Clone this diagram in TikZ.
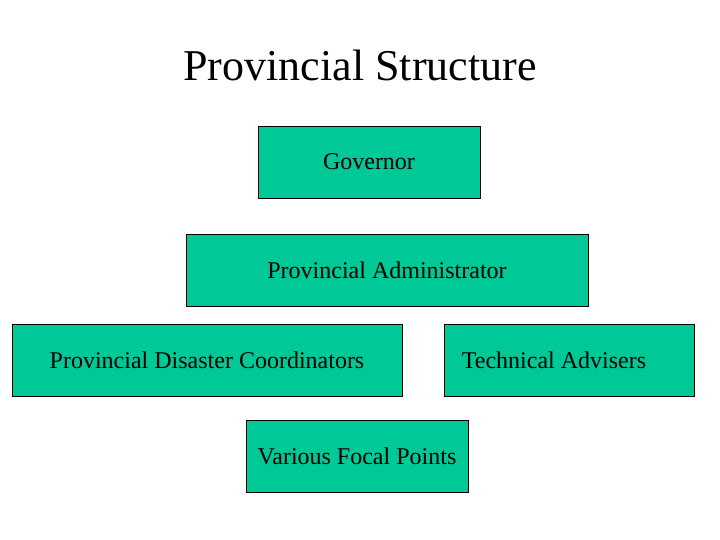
\documentclass[tikz,border=0pt]{standalone}
\usepackage{fontspec}
\setmainfont{Liberation Serif}
\definecolor{boxgreen}{HTML}{00C896}

\begin{document}
\begin{tikzpicture}[x=1pt,y=1pt,
    orgbox/.style={draw=black,fill=boxgreen,line width=0.8pt,minimum height=72pt,inner sep=0pt,font=\fontsize{24}{28}\selectfont}]
    \useasboundingbox (0,0) rectangle (720,540);
    % title
    \node[font=\fontsize{44}{50}\selectfont] (title) at (360,475) {Provincial Structure};
    % boxes, top to bottom
    \node[orgbox,minimum width=222pt] (gov) at (369,378) {Governor};
    \node[orgbox,minimum width=402pt] (admin) at (387,270) {Provincial Administrator};
    \node[orgbox,minimum width=390pt] (pdc) at (207,180) {Provincial Disaster Coordinators};
    \node[orgbox,minimum width=250pt] (tech) at (569,180) {};
    \node[font=\fontsize{24}{28}\selectfont] (techtext) at (554,180) {Technical Advisers};
    \node[orgbox,minimum width=222pt] (focal) at (357,84) {Various Focal Points};
\end{tikzpicture}
\end{document}
